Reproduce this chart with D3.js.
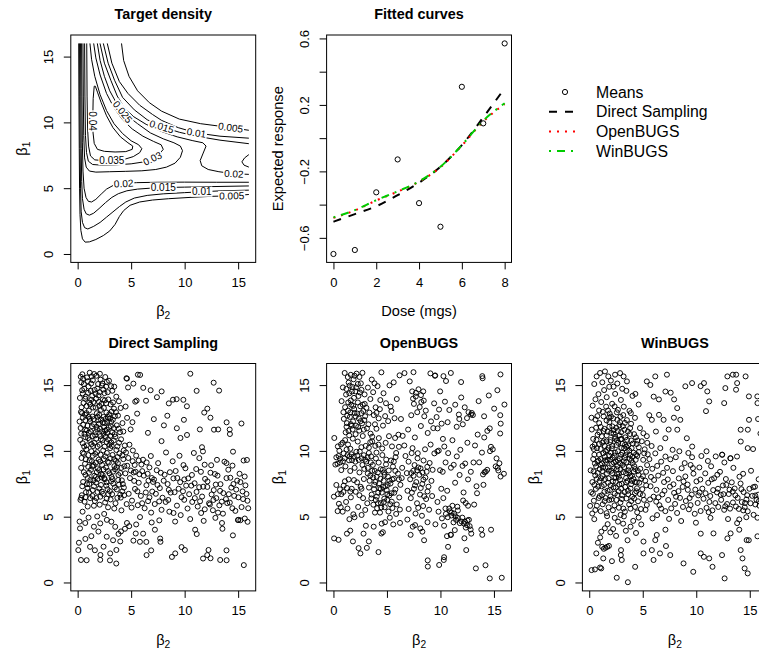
<!DOCTYPE html>
<html>
<head>
<meta charset="utf-8">
<script src="https://cdn.jsdelivr.net/npm/d3@7"></script>
<style>
body { margin: 0; background: #fff; }
svg { font-family: "Liberation Sans", Arial, Helvetica, sans-serif; }
</style>
</head>
<body>
<script>
// ---- fitted curves panel ----
var dose = [0, 1, 2, 3, 4, 5, 6, 7, 8];
var means = [-0.697, -0.673, -0.326, -0.128, -0.391, -0.533, 0.309, 0.089, 0.57];
var fitDirect = [-0.503, -0.457, -0.41, -0.343, -0.268, -0.172, -0.042, 0.125, 0.30];
var fitOpen = [-0.48, -0.435, -0.375, -0.322, -0.262, -0.175, -0.045, 0.10, 0.205];
var fitWin = [-0.477, -0.433, -0.373, -0.32, -0.26, -0.172, -0.042, 0.105, 0.21];
var legendNames = ['Means', 'Direct Sampling', 'OpenBUGS', 'WinBUGS'];

// ---- target density contours, traced as [beta2, beta1] polylines ----
var contourLines = [
  [0.005, [[0.1,16],[0.12,12],[0.15,8],[0.18,5],[0.22,3],[0.3,1.8],[0.45,1.15],[0.7,0.9],[1.1,0.92],[1.7,1.1],[2.4,1.4],[3.0,1.75],[3.5,2.25],[3.9,2.85],[4.3,3.3],[4.9,3.7],[5.8,3.95],[7.0,4.1],[8.5,4.2],[10.5,4.3],[12.5,4.38],[14.4,4.42],[16,4.52]]],
  [0.01, [[0.18,16],[0.2,12],[0.23,8],[0.27,5],[0.33,3.2],[0.45,2.4],[0.65,2.0],[0.95,1.9],[1.5,2.1],[2.1,2.4],[2.7,2.8],[3.3,3.2],[3.9,3.6],[4.5,3.95],[5.3,4.25],[6.5,4.45],[8,4.57],[10,4.66],[11.6,4.73],[13.5,4.8],[16,4.85]]],
  [0.015, [[0.27,16],[0.3,12],[0.33,8],[0.38,5.5],[0.45,4.2],[0.6,3.4],[0.8,3.05],[1.1,2.95],[1.5,3.1],[2.0,3.45],[2.6,3.9],[3.2,4.3],[3.8,4.58],[4.6,4.8],[5.6,4.93],[6.8,5.0],[8,5.05],[10,5.08],[12.5,5.12],[16,5.17]]],
  [0.02, [[0.37,16],[0.4,12],[0.44,8.5],[0.5,6.3],[0.6,5.0],[0.78,4.3],[1.0,4.0],[1.3,3.95],[1.7,4.15],[2.2,4.55],[2.7,4.93],[3.3,5.2],[4.3,5.35],[5.5,5.42],[7.5,5.45],[10,5.46],[13,5.45],[16,5.45]]],
  [0.025, [[0.5,16],[0.53,12],[0.57,9],[0.65,7.3],[0.8,6.6],[1.1,6.3],[1.7,6.22],[3,6.25],[4.5,6.28],[6,6.32],[7.3,6.42],[8.3,6.6],[9.1,6.9],[9.6,7.35],[9.8,7.85],[9.6,8.2],[9.0,8.45],[8.0,8.75],[6.8,9.2],[5.6,9.9],[4.8,10.4],[4.2,10.8],[3.6,11.5],[3.0,12.4],[2.5,13.5],[2.1,14.7],[1.84,16]]],
  [0.03, [[0.65,16],[0.68,12],[0.73,9],[0.83,7.7],[1.0,7.05],[1.4,6.8],[2.2,6.75],[3.5,6.77],[5,6.85],[6.2,7.0],[7.0,7.25],[7.6,7.55],[8.0,7.95],[7.8,8.3],[7.1,8.55],[6.1,8.95],[5.1,9.5],[4.2,10.2],[3.4,11.1],[2.7,12.2],[2.1,13.6],[1.7,14.9],[1.5,16]]],
  [0.035, [[0.85,16],[0.88,12],[0.93,9.5],[1.02,8.2],[1.2,7.45],[1.6,7.15],[2.4,7.1],[3.4,7.12],[4.4,7.2],[5.2,7.4],[5.8,7.7],[6.0,8.0],[5.7,8.3],[5.0,8.6],[4.2,9.15],[3.4,9.9],[2.7,10.9],[2.1,12.1],[1.6,13.5],[1.3,14.8],[1.15,16]]],
  [0.04, [[1.55,12.75],[1.45,11.8],[1.42,10.5],[1.44,9.2],[1.55,8.4],[1.85,7.95],[2.5,7.8],[3.5,7.75],[4.5,7.78],[5.1,7.95],[5.15,8.2],[4.7,8.45],[4.0,8.9],[3.3,9.6],[2.7,10.5],[2.2,11.5],[1.85,12.3],[1.65,12.75],[1.55,12.75]]],
  [0.02, [[2.09,16],[2.5,14.5],[3.1,13.2],[3.7,12.0],[4.3,11.2],[5.2,10.45],[6.4,9.85],[7.85,9.3],[9.3,8.9],[10.7,8.62],[11.7,8.45],[12.0,8.2],[11.7,7.6],[11.45,7.1],[11.6,6.7],[12.2,6.42],[13.2,6.25],[14.6,6.1],[16,6.05]]],
  [0.015, [[2.4,16],[2.85,14.5],[3.45,13.2],[4.2,11.9],[5.3,10.95],[6.5,10.2],[7.85,9.67],[9.5,9.25],[11.1,8.95],[13.3,8.65],[16,8.38]]],
  [0.01, [[2.77,16],[3.2,14.5],[3.9,13.1],[4.7,12.2],[5.8,11.3],[7.0,10.6],[7.85,10.15],[9.4,9.6],[11.1,9.2],[13.3,8.95],[16,8.8]]],
  [0.005, [[4.1,16],[4.3,14.7],[4.8,13.5],[5.6,12.4],[6.7,11.5],[7.85,10.85],[9.5,10.25],[11.5,9.9],[13.2,9.72],[14.3,9.6],[16,9.4]]],
  [0.025, [[16,7.55],[15.6,7.3],[15.35,7.0],[15.55,6.75],[16,6.6]]]
];
// label text, beta2, beta1, angle
var contourLabels = [
  ['0.005', 14.3, 9.6, 8], ['0.01', 11.1, 9.2, 9], ['0.015', 7.85, 9.67, 17],
  ['0.025', 4.2, 10.8, 52], ['0.04', 1.43, 10.1, 90], ['0.035', 3.2, 7.12, 0],
  ['0.03', 7.0, 7.25, -26], ['0.02', 4.3, 5.35, -3], ['0.015', 8.0, 5.05, 0],
  ['0.01', 11.6, 4.73, 0], ['0.005', 14.4, 4.42, -1], ['0.02', 14.6, 6.1, 3]
];

// ---- posterior samples [beta2, beta1] ----
var directPts = [
[0.34,15.21],[0.62,14.73],[0.87,15.58],[1.13,15.94],[1.42,15.37],[1.76,15.71],[2.08,15.86],[2.31,15.12],[2.66,14.88],[2.93,15.33],[0.21,14.02],[0.55,13.64],[0.97,14.41],[1.27,13.88],[1.58,14.63],[1.94,14.21],[2.22,13.57],[2.51,14.39],[2.87,13.91],[3.24,14.57],[3.61,14.12],[0.41,12.87],[0.73,12.33],[1.05,13.06],[1.38,12.61],[1.69,13.29],[2.01,12.74],[2.35,12.15],[2.69,12.92],[3.02,12.46],[3.39,13.21],[3.77,12.68],[0.28,11.74],[0.64,11.29],[0.92,11.91],[1.21,11.47],[1.53,12.02],[1.82,11.63],[2.14,11.12],[2.47,11.81],[2.78,11.36],[3.11,11.88],[3.46,11.27],[3.83,11.69],[4.19,12.11],[0.47,10.58],[0.81,10.12],[1.12,10.83],[1.44,10.37],[1.73,10.92],[2.05,10.46],[2.39,10.03],[2.71,10.67],[3.04,10.21],[3.37,10.79],[3.72,10.34],[4.06,10.88],[4.41,10.41],[0.36,9.46],[0.69,9.02],[1.01,9.68],[1.33,9.21],[1.64,9.77],[1.97,9.33],[2.28,8.94],[2.59,9.58],[2.92,9.11],[3.26,9.69],[3.58,9.24],[3.91,9.81],[4.27,9.37],[0.58,8.38],[0.94,7.93],[1.24,8.56],[1.56,8.11],[1.88,8.67],[2.19,8.23],[2.53,7.84],[2.84,8.47],[3.17,8.02],[3.49,8.61],[3.81,8.17],[4.13,7.76],[4.46,8.29],[0.43,7.31],[0.78,6.86],[1.09,7.48],[1.41,7.02],[1.72,7.59],[2.03,7.14],[2.37,6.73],[2.68,7.36],[3.01,6.94],[3.33,7.51],[3.66,7.07],[3.98,6.68],[4.32,7.21],[0.26,6.27],[0.65,6.14],[1.17,6.41],[1.61,6.19],[2.12,6.52],[2.57,6.08],[3.08,6.31],[3.54,6.02],[4.03,6.45],
[0.51,15.47],[1.36,14.18],[1.91,15.08],[2.45,13.26],[0.83,13.41],[1.64,11.18],[2.96,10.46],[1.28,9.97],[2.14,9.71],[3.43,8.84],[0.99,8.79],[1.79,8.39],[2.71,7.61],[3.87,7.44],[1.48,7.76],[2.33,10.82],[1.03,12.58],[3.18,12.99],[2.57,11.53],[0.72,11.04],[1.92,12.33],[3.62,10.07],[4.08,8.71],[2.81,9.17],[1.57,10.61],[0.58,9.79],[2.24,7.98],[3.25,7.86],[1.85,6.88],[0.92,7.18],[4.35,6.63],[3.73,9.53],[2.63,12.44],[1.18,13.52],[2.06,14.46],[0.31,12.96],[1.49,8.93],[2.41,8.59],[3.14,10.64],[4.52,9.88],[0.85,10.42],[1.71,9.11],[2.87,6.71],[3.96,11.42],[1.26,15.12],[2.58,15.61],[0.47,14.37],
[0.44,15.82],[0.76,14.12],[1.02,14.89],[1.31,15.66],[1.67,14.34],[1.99,13.72],[2.27,14.97],[2.54,13.84],[2.81,14.46],[3.09,13.53],[3.42,14.88],[3.86,13.77],[0.36,13.31],[0.69,12.74],[1.15,12.27],[1.47,13.71],[1.79,12.86],[2.18,13.12],[2.42,12.58],[2.76,12.21],[3.29,12.37],[3.58,12.94],[4.02,13.26],[0.52,11.98],[0.86,11.56],[1.34,11.87],[1.68,11.42],[1.99,12.06],[2.29,11.48],[2.63,11.09],[2.91,11.79],[3.24,11.41],[3.66,11.94],[4.27,11.47],[0.24,10.84],[0.61,10.33],[0.97,10.97],[1.29,10.51],[1.86,10.34],[2.17,10.89],[2.52,10.32],[2.84,10.88],[3.19,10.37],[3.53,11.07],[3.87,10.62],[4.31,10.04],[0.47,9.87],[0.76,9.36],[1.12,9.27],[1.41,9.63],[1.82,9.91],[2.11,9.19],[2.44,9.37],[2.73,9.84],[3.07,9.43],[3.41,9.36],[3.76,9.07],[4.18,9.66],[0.33,8.71],[0.73,8.18],[1.06,8.34],[1.37,8.81],[1.71,8.02],[2.01,8.54],[2.33,8.17],[2.66,8.73],[2.98,8.29],[3.31,8.42],[3.66,8.76],[3.98,8.32],[4.36,8.83],[0.51,7.64],[0.87,7.47],[1.19,7.79],[1.53,7.31],[1.86,7.86],[2.18,7.41],[2.49,7.93],[2.79,7.09],[3.12,7.68],[3.47,7.22],[3.79,7.79],[4.22,7.48],[0.39,6.63],[0.74,6.48],[1.06,6.83],[1.39,6.57],[1.74,6.42],[2.26,6.91],[2.71,6.37],[3.22,6.71],[3.71,6.43],[4.17,6.92],[0.94,5.77],[1.52,5.83],[2.06,5.91],[2.84,5.71],[3.42,5.62],[4.09,5.48],[4.58,5.96],[4.73,9.46],[4.84,10.47],[5.16,10.03],[5.47,9.64],[4.97,8.51],[5.28,7.72],[5.58,6.93],[5.04,5.69],[5.77,8.23],[6.11,9.33],[6.37,6.84],[6.62,7.74],[6.03,6.02],[7.31,6.74],[7.77,8.34],[8.47,6.27],[9.06,6.86],[9.58,7.62],[10.33,7.91],[10.95,6.41],[11.73,7.28],[12.36,5.93],[12.91,7.44],[13.47,6.14],[14.13,6.71],[14.82,7.06],[15.46,6.34],
[0.29,15.63],[0.58,15.07],[0.95,15.29],[1.22,14.56],[1.54,15.84],[1.83,14.73],[2.14,15.41],[2.39,14.66],[2.73,15.24],[3.12,14.92],[0.42,14.61],[0.71,13.96],[1.08,13.67],[1.44,13.29],[1.74,13.97],[2.03,13.41],[2.36,13.91],[2.67,13.62],[2.96,12.78],[3.31,13.68],[0.18,12.23],[0.49,12.53],[0.82,12.87],[1.13,12.44],[1.51,12.41],[1.86,12.59],[2.19,12.38],[2.54,12.11],[2.84,12.57],[3.14,12.21],[3.48,12.63],[0.33,11.31],[0.71,11.61],[1.04,11.38],[1.41,11.12],[1.76,11.83],[2.09,11.67],[2.41,11.29],[2.72,11.62],[3.04,11.14],[3.38,11.73],[5.33,8.93],[5.71,9.27],[6.04,8.46],[6.54,8.26],[6.93,7.94],[7.46,7.41],[8.04,7.73],[8.52,7.04],[9.31,7.94],[9.96,6.28],[10.62,7.36],[11.44,6.17],[12.12,7.26],[12.69,6.27],[13.31,6.96],[13.98,6.03],[14.56,7.48],[15.21,7.63],[15.78,6.73],[10.07,8.68],[11.52,8.41],[12.83,8.24],[14.27,7.96],[8.96,5.28],[11.88,5.56],[13.12,5.31],[14.46,5.64],[6.71,6.47],[7.62,6.16],
[4.62,12.51],[4.95,11.63],[4.48,13.37],[5.12,12.18],[4.71,14.82],[5.38,13.74],[4.56,15.52],[5.63,15.79],[5.21,15.11],[5.56,12.83],
[4.63,8.87],[4.89,7.93],[5.14,9.22],[5.42,8.41],[5.71,7.58],[5.96,8.96],[4.77,6.74],[5.08,6.22],[5.36,7.11],[5.62,5.87],[5.91,6.58],[6.18,8.12],[6.43,7.39],[6.71,8.74],[6.97,6.91],[6.26,5.64],[6.58,6.18],[6.87,5.31],[7.14,7.82],[7.39,8.53],[7.68,7.17],[7.93,6.44],[7.21,5.96],[7.52,9.07],[7.84,5.52],[8.13,8.19],[8.41,7.48],[8.69,6.83],[8.95,7.91],[8.23,6.12],[8.57,5.38],[8.88,9.21],[9.16,8.47],[9.44,7.12],[9.71,6.48],[9.97,7.83],[9.28,5.84],[9.63,5.12],[9.89,8.92],[10.14,7.36],[10.42,6.71],[10.68,8.17],[10.93,7.54],[10.27,5.62],[10.71,6.12],[11.08,8.62],[11.36,7.24],[11.63,6.53],[11.91,7.87],[11.22,5.77],[11.54,5.28],[11.87,8.95],[12.13,7.68],[12.41,8.34],[12.72,7.02],[12.96,6.41],[12.28,6.02],[12.64,5.49],[13.07,8.12],[13.35,7.47],[13.62,6.79],[13.91,7.93],[13.24,5.86],[13.58,5.23],[14.08,8.57],[14.36,7.21],[14.63,6.58],[14.91,7.74],[14.22,6.07],[14.74,5.44],[15.13,8.26],[15.41,6.92],[15.68,7.38],[15.87,6.21],[15.32,5.73],[15.62,4.86],[15.94,5.64],[15.51,9.27],[12.48,8.91],[9.52,9.63],[10.86,9.84],[6.84,9.61],[8.26,9.88],[11.37,9.45],[13.72,9.18],[14.47,8.88],[7.63,4.72],[9.11,4.63],[12.87,4.91],[14.98,4.74],[5.83,4.97],[6.92,4.56],[10.52,4.82],[11.78,4.68],[13.49,4.52],[8.62,8.38],[9.84,6.93],[11.11,6.88],[12.52,6.69],[13.86,6.34],[15.02,6.47],[7.05,7.64],[6.45,9.12],[5.24,8.36],
[10.53,15.86],[12.71,15.18],[13.22,14.58],[11.12,14.56],[8.91,13.89],[7.85,14.52],[7.41,14.08],[6.82,14.61],[6.13,14.79],[5.84,15.77],[4.61,15.49],[8.52,13.61],[9.25,13.93],[9.88,13.88],[10.21,13.39],[6.39,13.81],[5.51,13.82],[11.83,12.91],[12.12,13.21],[12.41,12.52],[12.74,11.61],[13.13,11.63],[13.92,12.17],[14.21,11.62],[14.23,11.28],[15.31,12.08],[11.42,11.63],[10.22,11.21],[9.61,10.98],[9.27,11.72],[11.62,10.28],[11.71,9.96],[14.52,9.94],[15.82,9.31],[13.91,9.07],[13.02,9.32],[15.61,8.05],[7.12,12.41],[8.06,11.94],[6.57,11.37],[7.84,10.74],[8.38,12.67],[9.93,12.36],
[0.06,2.46],[0.31,1.71],[0.84,1.69],[2.11,1.72],[3.02,1.68],[3.61,1.44],[2.13,2.09],[3.04,2.21],[3.62,2.47],[3.98,3.12],[5.21,3.18],[5.43,3.72],[5.82,3.09],[6.12,3.71],[6.42,3.08],[6.44,2.08],[6.87,2.44],[7.71,3.34],[7.74,3.09],[7.22,4.01],[8.81,1.94],[9.12,2.21],[9.71,2.69],[10.02,2.47],[10.98,4.01],[11.13,3.68],[11.72,1.82],[12.11,2.08],[12.23,2.47],[12.42,1.84],[13.32,1.71],[13.53,4.08],[13.91,2.44],[13.92,1.69],[14.51,3.58],[15.02,4.76],[15.21,4.73],[15.88,4.61],[15.53,1.32],[0.12,3.02],[0.22,4.11],[0.71,4.52],[1.52,4.24],[2.11,4.49],[2.72,3.48],[1.16,2.71],[1.61,2.45],[2.42,2.72],[3.31,3.21],[3.82,3.69],[4.61,4.52],[4.42,4.08],[3.51,4.23],[2.73,4.76],[1.83,5.02],[0.46,5.38],[1.02,4.93],[2.48,5.21],[3.15,4.62],[4.05,3.88],[4.82,4.28],[5.47,4.41],[0.33,6.42],[0.18,4.63],[1.28,3.52],[1.94,3.87],[0.72,3.31]
];

var openbugsPts = [
[1.05,15.92],[1.34,15.61],[1.62,15.78],[1.88,15.44],[2.16,15.87],[2.43,15.62],[2.71,15.93],[1.21,14.71],[1.48,14.38],[1.77,14.86],[2.05,14.52],[2.34,14.17],[2.62,14.64],[2.91,14.29],[3.22,14.81],[0.88,14.82],[1.09,13.32],[1.37,13.06],[1.66,13.51],[1.94,13.18],[2.22,12.84],[2.51,13.39],[2.79,13.03],[3.08,13.27],[3.36,12.91],[0.97,12.43],[1.26,12.11],[1.54,12.58],[1.83,12.24],[2.11,11.92],[2.38,12.46],[2.67,12.09],[2.96,12.63],[3.27,12.02],[1.14,11.41],[1.47,11.18],[1.79,11.62],[2.07,11.27],[2.41,11.54],[2.74,11.13],[3.13,11.71],[0.76,13.78],[1.58,12.92],[2.28,13.68],[2.89,12.34],[1.92,14.03],[2.56,15.13],[1.71,11.91],[3.45,13.94],[3.71,14.46],[3.94,13.31],[4.12,14.92],[4.38,13.86],[3.58,15.42],[4.23,12.47],[3.88,12.02],
[0.08,10.98],[0.27,9.51],[0.41,10.34],[0.62,9.12],[0.86,10.62],[1.04,9.43],[1.23,10.11],[1.46,9.28],[1.68,9.74],[1.91,9.56],[2.14,9.93],[2.37,9.31],[2.61,10.28],[2.84,9.67],[3.07,9.19],[3.31,9.84],[0.38,9.02],[0.73,8.54],[1.12,8.82],[1.57,8.47],[1.98,8.71],[2.43,8.36],[2.88,8.63],[3.21,8.28],[0.55,10.01],[1.36,10.48],[2.27,10.71],[3.02,10.38],[1.81,10.93],[0.96,9.81],[2.71,8.93],[3.52,9.58],[3.44,10.66],[0.18,8.96],
[0.04,6.52],[0.27,7.41],[0.51,5.98],[0.73,6.71],[0.96,7.36],[1.18,6.12],[1.42,7.83],[1.63,6.47],[1.86,5.18],[2.08,6.89],[2.31,5.74],[2.54,7.27],[2.77,6.41],[2.97,5.51],[0.86,5.38],[1.31,5.62],[1.71,7.12],[2.21,7.61],[2.63,5.13],[1.49,4.81],[0.61,7.08],[1.97,4.96],[0.39,5.42],[2.84,7.86],[1.07,7.69],
[3.21,8.71],[3.44,8.12],[3.68,8.93],[3.92,7.64],[4.15,8.36],[4.39,7.88],[4.62,8.57],[4.86,7.31],[5.09,8.04],[5.33,7.52],[5.56,8.81],[5.79,7.07],[6.03,8.27],[6.26,7.42],[3.32,7.21],[3.57,6.68],[3.81,7.43],[4.05,6.52],[4.28,7.17],[4.52,6.83],[4.75,6.37],[4.98,7.02],[5.22,6.61],[5.45,6.14],[5.68,6.82],[5.92,5.93],[6.15,6.46],[3.73,5.91],[4.08,5.64],[4.43,6.03],[4.79,5.72],[5.14,5.39],[5.51,5.66],[5.86,5.21],[6.21,5.54],[3.16,6.02],[4.91,8.97],[4.23,9.11],[3.97,9.42],[5.38,9.27],[5.81,9.53],[4.57,9.68],[6.42,8.71],[6.38,7.93],[3.49,9.12],[4.69,7.73],[5.02,6.28],[3.86,8.48],[5.64,7.89],[4.35,5.31],[3.54,6.39],[5.27,4.92],[4.51,4.47],[4.82,4.58],[5.59,4.41],[4.62,3.82],
[3.31,10.24],[3.62,10.72],[3.91,10.38],[4.24,10.97],[4.56,10.18],[4.88,10.61],[5.19,11.12],[5.47,10.34],[5.76,10.98],[6.07,11.23],[3.47,11.31],[4.02,11.68],[4.63,11.92],[5.11,12.26],[5.71,12.48],[3.77,12.72],[4.34,13.17],[4.91,13.62],[5.42,13.03],[5.92,13.94],[4.68,14.38],[5.24,14.98],[5.63,15.21],[6.18,15.74],[4.48,15.97],[6.31,12.42],[6.12,10.31],[5.86,9.84],[6.47,11.14],[3.84,15.13],
[6.73,9.61],[7.02,9.18],[7.31,9.83],[7.58,8.92],[7.86,9.44],[8.14,8.67],[8.42,9.27],[8.71,8.41],[8.99,9.08],[9.27,8.56],[6.86,8.31],[7.17,7.84],[7.46,8.49],[7.74,7.63],[8.03,8.18],[8.31,7.49],[8.59,7.97],[8.88,7.28],[9.16,7.72],[6.92,6.97],[7.23,6.41],[7.52,7.12],[7.81,6.02],[8.09,6.68],[8.38,5.81],[8.66,6.34],[8.94,5.53],[9.22,6.57],[7.03,5.58],[7.67,5.24],[8.27,5.07],[7.39,10.21],[8.56,10.12],[9.43,9.81],[6.62,10.41],[9.08,10.48],[7.92,5.67],
[6.64,15.91],[7.48,15.98],[7.13,15.28],[7.36,14.52],[7.69,14.13],[7.95,14.68],[8.18,14.24],[8.44,13.82],[7.52,13.57],[8.06,13.33],[8.63,13.06],[7.27,12.71],[7.83,12.94],[8.49,12.63],[9.06,15.89],[9.48,15.71],[9.12,12.24],[9.64,12.57],[9.33,11.73],[8.81,11.36],[7.61,11.02],[6.98,11.62],[9.87,13.14],[9.41,13.61],[8.17,11.89],
[9.53,4.42],[9.82,5.38],[10.14,4.87],[10.47,5.62],[10.68,4.96],[10.89,5.41],[11.12,5.83],[11.27,5.24],[11.46,4.76],[11.63,5.47],[11.81,4.51],[12.04,4.93],[12.19,4.48],[12.37,4.17],[12.52,4.71],[12.73,4.28],[12.88,3.71],[12.24,3.36],[12.41,2.46],[12.66,4.76],[11.58,5.76],[11.02,5.09],[10.34,4.31],[10.61,3.52],[10.97,3.61],[11.34,3.98],[9.72,6.12],[10.27,6.41],[12.12,6.23],[12.36,6.04],[12.58,5.83],[13.15,5.92],
[9.71,9.96],[9.96,8.53],[10.21,8.41],[10.48,9.12],[10.72,9.83],[10.98,8.72],[11.24,8.94],[11.53,9.58],[11.79,8.17],[12.06,8.86],[12.31,9.04],[12.58,7.83],[12.84,8.41],[13.09,9.12],[13.37,7.31],[13.62,9.13],[13.88,9.87],[14.12,8.38],[14.37,8.56],[14.63,9.98],[14.89,10.12],[15.16,8.82],[15.41,8.51],[15.62,8.05],[15.93,8.26],[15.51,9.06],[14.72,10.31],[10.08,7.12],[10.63,6.97],[11.37,7.58],[12.16,6.84],[13.42,6.78],[14.02,7.42],[13.23,10.41],[12.52,10.62],[11.12,10.81],[10.36,10.33],[9.84,10.02],[11.86,10.08],[15.24,9.43],
[9.51,15.73],[10.28,15.68],[10.97,15.92],[10.52,15.31],[11.93,15.23],[13.91,15.68],[13.94,15.52],[15.61,15.81],[15.32,14.61],[9.97,14.52],[10.42,13.74],[10.83,13.11],[11.38,13.51],[11.94,14.06],[12.27,13.31],[12.62,12.94],[12.86,12.76],[13.57,13.78],[13.03,12.72],[14.08,12.63],[14.61,11.71],[14.09,11.02],[15.59,12.71],[15.63,12.07],[15.58,11.32],[15.98,13.52],[15.02,13.21],[10.11,12.07],[10.67,12.18],[11.52,11.83],[12.09,12.02],[13.48,11.24],[12.48,12.49],[11.72,12.76],[9.73,11.71],[14.52,14.21],
[0.06,3.35],[0.48,3.24],[1.26,3.71],[1.57,3.94],[2.35,2.61],[2.52,2.21],[3.31,3.12],[3.12,2.63],[4.21,2.31],[4.48,3.72],[2.81,3.71],[3.76,4.24],[7.21,3.62],[7.41,4.24],[8.12,4.11],[8.31,3.86],[8.47,3.21],[8.79,4.58],[8.81,1.68],[8.82,1.21],[9.88,1.33],[10.31,1.71],[10.34,1.92],[10.71,2.71],[10.96,3.63],[13.31,1.07],[14.21,1.31],[14.61,0.31],[15.73,0.36],[13.82,4.02],[13.91,3.62],[14.73,4.01],[7.63,4.36],[6.91,4.78],[6.22,4.53],[1.82,3.12],[3.03,4.31],
[1.42,15.19],[1.97,15.71],[2.28,15.08],[1.18,14.28],[1.73,14.51],[2.47,14.44],[1.38,13.68],[2.08,12.62],[2.61,12.87],[1.63,12.03],[2.31,11.81],[1.22,11.83],[2.92,13.57],[1.85,13.42],[0.48,9.61],[0.89,9.21],[1.31,9.68],[1.74,9.29],[2.22,9.64],[2.63,9.44],[3.18,9.52],[0.71,10.49],[1.58,10.16],[2.46,9.95],[1.09,10.82],[3.62,8.49],[4.04,8.03],[4.41,8.61],[4.78,8.18],[5.17,8.51],[5.49,7.83],[3.79,7.08],[4.18,6.82],[4.63,7.26],[5.07,7.41],[5.42,6.78],[3.96,6.27],[4.71,6.12],[5.31,5.94],[4.47,5.71],[5.78,8.48],[6.12,7.83],[3.38,7.73],[4.27,7.53],[4.93,9.34],[5.64,9.18],[3.88,5.31],[7.49,8.11],[7.93,8.74],[8.32,8.36],[8.77,8.79],[7.62,7.38],[8.16,7.18],[8.79,6.92],[7.33,6.83],[8.48,6.55],[7.88,9.82],[7.71,14.41],[8.21,13.71],[7.44,13.97],[8.39,14.52],[10.82,5.62],[11.41,5.02],[11.97,4.63],[12.48,4.36],[11.22,4.57],[10.51,5.21],[12.82,4.02],[0.93,6.88],[1.58,6.91],[2.43,6.63],[0.68,5.72],[1.92,7.78],[13.98,8.21],[14.23,8.42],[15.34,8.71],[11.76,12.42],[12.93,12.88],[14.38,11.52],[10.23,10.91],[5.34,13.36],[4.83,12.64],[4.02,12.89],[3.62,11.08],[4.21,10.48],
[1.52,14.96],[2.12,14.83],[1.29,12.67],[1.97,12.88],[2.54,12.26],[1.62,13.83],[2.74,13.51],[0.93,12.94],[1.41,11.52],[2.84,11.61],[0.61,9.41],[1.51,9.58],[2.05,9.18],[2.96,9.33],[4.71,8.36],[5.23,7.73],[4.42,7.11],[3.71,7.98],[5.04,6.71],[4.16,6.03],[7.82,8.52],[8.41,7.81],[7.27,8.31],[11.62,4.91],[12.28,4.61],[11.04,5.31],[0.41,6.71],[1.26,7.18],[2.62,7.12],[4.02,9.87]
];

var winbugsPts = [
[0.24,11.62],[0.51,10.47],[0.78,11.23],[1.06,10.14],[1.33,11.51],[1.61,10.72],[1.88,11.84],[2.16,10.38],[2.43,11.07],[2.71,10.61],[2.98,11.42],[3.26,10.19],[3.53,10.84],[3.81,11.28],[4.08,10.56],[4.36,11.03],[4.63,10.27],[4.91,10.73],[5.18,10.12],[0.37,9.38],[0.64,8.82],[0.92,9.71],[1.19,9.04],[1.47,9.56],[1.74,8.73],[2.02,9.87],[2.29,9.12],[2.57,8.61],[2.84,9.43],[3.12,8.94],[3.39,9.68],[3.67,8.52],[3.94,9.27],[4.22,8.83],[4.49,9.61],[4.77,8.64],[5.04,9.32],[5.31,8.41],[0.29,7.63],[0.56,8.14],[0.83,7.28],[1.11,7.92],[1.38,7.41],[1.66,8.27],[1.93,7.02],[2.21,7.68],[2.48,7.21],[2.76,8.03],[3.03,7.49],[3.31,6.86],[3.58,7.72],[3.86,7.14],[4.13,7.87],[4.41,6.93],[4.68,7.58],[4.96,7.09],[5.23,7.74],[0.43,6.21],[0.71,5.83],[0.98,6.57],[1.26,5.94],[1.53,6.42],[1.81,5.71],[2.08,6.31],[2.36,5.86],[2.63,6.64],[2.91,6.07],[3.18,5.62],[3.46,6.38],[3.73,5.93],[4.01,6.52],[4.28,5.74],[4.56,6.17],[4.83,5.58],[5.11,6.28],[5.38,5.89],[1.62,12.31],[1.91,12.84],[2.24,12.47],[2.58,12.93],[2.87,12.18],[3.18,12.72],[1.34,12.62],[0.93,12.11],[3.52,12.34],[3.91,12.06],[4.27,12.51],[2.05,11.37],[2.52,11.76],[2.94,10.88],[1.79,10.23],[2.37,9.64],[3.01,10.23],[2.68,9.97],[1.53,9.98],[3.47,9.14],[2.15,8.31],[2.93,8.58],[3.74,10.02],[4.15,9.86],[1.23,8.47],[1.97,10.67],[2.41,10.93],[3.29,11.61],[0.68,10.84],[0.13,8.52],[0.17,6.86],[0.08,5.82],[0.58,12.38],[4.74,11.73],[5.06,11.34],[5.42,10.61],[5.47,9.74],[1.42,6.89],[2.74,6.94],[3.92,6.18],[4.61,8.19],[5.02,8.07],[1.07,11.82],[2.81,11.95],[3.61,11.47],[4.43,10.52],[1.71,9.31],[2.62,8.22],[3.44,8.31],[1.35,10.73],[2.19,9.48],[3.09,9.86],[3.83,8.07],[2.47,7.65],[1.76,7.58],[0.86,9.26],[1.63,11.17],[2.29,11.58],[3.35,10.47],[4.03,9.55],[0.42,10.14],[2.91,12.59],[2.03,12.61],
[0.37,10.91],[0.64,11.76],[0.91,10.52],[1.17,11.11],[1.45,10.37],[1.72,11.46],[1.99,10.82],[2.27,11.31],[2.54,10.44],[2.82,11.17],[3.09,10.54],[3.37,11.03],[3.64,10.41],[3.92,10.79],[4.19,11.27],[4.51,10.79],[0.48,9.71],[0.77,9.19],[1.04,9.38],[1.31,9.82],[1.58,9.16],[1.86,9.64],[2.13,9.01],[2.41,9.86],[2.68,9.28],[2.96,9.71],[3.23,9.21],[3.51,9.91],[3.78,9.41],[4.06,9.07],[4.34,9.32],[4.62,9.91],[0.41,8.44],[0.69,7.86],[0.97,8.62],[1.24,8.08],[1.52,8.71],[1.79,7.91],[2.07,8.49],[2.34,7.97],[2.62,8.84],[2.89,7.82],[3.17,8.38],[3.44,7.94],[3.72,8.79],[3.99,8.11],[4.27,7.63],[4.54,8.47],[4.86,7.87],[0.34,6.74],[0.62,7.11],[0.89,6.42],[1.16,7.31],[1.44,6.18],[1.71,6.97],[1.99,6.54],[2.26,7.23],[2.54,6.27],[2.81,7.44],[3.09,6.63],[3.36,7.26],[3.64,6.71],[3.91,7.47],[4.19,6.38],[4.46,7.16],[4.74,6.72],[5.01,6.64],[0.57,5.51],[1.07,5.42],[1.62,5.27],[2.21,5.49],[2.77,5.68],[3.33,5.38],[3.86,5.61],[4.48,5.33],[5.26,5.52],[5.14,9.81],[5.32,7.38],[5.41,8.92],[5.68,6.31],[5.77,8.02],[6.06,7.79],[6.47,6.47],[6.91,8.33],[7.34,7.83],[7.87,7.46],[8.34,6.94],[8.81,7.67],[9.38,6.42],[9.91,7.06],[10.38,7.82],[10.87,6.78],[11.45,7.84],[12.03,7.12],[12.54,6.71],[13.11,7.05],[13.66,6.62],[14.22,7.09],[14.76,6.63],[15.33,7.24],[15.87,6.19],[6.72,5.62],[8.02,5.97],[9.47,5.88],[11.16,5.34],[12.71,5.79],[14.39,5.48],[1.27,12.96],[2.37,13.38],[3.33,12.13],[1.88,12.18],[0.76,12.64],[2.63,12.36],
[0.31,10.32],[0.72,10.21],[1.22,10.62],[1.68,10.06],[2.11,10.18],[2.58,10.81],[3.02,10.91],[3.47,10.32],[3.96,10.21],[4.38,9.74],[0.53,9.04],[1.04,8.94],[1.52,9.29],[1.97,9.34],[2.46,9.18],[2.87,9.06],[3.31,9.47],[3.82,9.68],[4.29,8.62],[0.78,8.32],[1.28,8.74],[1.82,8.49],[2.31,8.66],[2.78,8.27],[3.26,8.76],[3.74,8.31],[4.17,8.42],[0.48,7.42],[0.96,7.71],[1.47,7.86],[1.99,7.39],[2.49,7.96],[2.98,7.13],[3.46,7.61],[3.99,7.72],[4.44,7.61],[1.19,6.63],[1.86,6.27],[2.39,6.76],[3.06,6.34],[3.62,6.97],[4.27,6.79],[2.16,11.86],[1.42,11.67],[2.67,11.52],[3.14,11.87],[3.82,11.73],[0.94,11.41],[1.85,12.52],[6.26,6.14],[7.03,6.97],[8.11,6.52],[9.21,7.04],[10.19,6.62],[11.31,6.57],[12.29,6.67],[13.41,6.91],[14.56,6.04],[15.51,6.61],[9.69,8.69],[11.97,8.19],
[0.69,15.66],[1.01,15.92],[1.47,16.04],[1.78,15.66],[2.41,15.79],[2.88,15.91],[3.21,15.66],[3.52,15.28],[0.32,13.44],[0.58,13.92],[0.86,14.31],[1.12,13.71],[1.39,14.62],[1.63,14.08],[1.87,14.87],[2.14,13.58],[2.42,14.33],[2.68,13.12],[2.96,13.87],[3.23,13.36],[3.47,14.56],[3.76,13.04],[4.04,14.18],[4.31,14.33],[4.62,13.52],[1.22,15.21],[2.02,15.34],[2.62,15.12],[0.47,15.08],[0.92,13.07],[1.58,13.36],[2.27,14.88],[3.08,14.72],[3.89,12.87],[0.21,12.52],[1.76,13.06],
[5.62,9.37],[5.89,8.64],[6.17,9.81],[6.44,8.12],[6.72,9.18],[6.99,7.63],[7.27,8.71],[7.54,7.28],[7.82,8.46],[8.09,9.52],[8.37,7.91],[8.64,8.68],[8.92,9.07],[9.19,7.44],[9.47,8.93],[9.74,8.27],[10.02,7.68],[10.29,8.74],[10.57,7.13],[10.84,8.29],[11.12,7.57],[11.39,8.83],[11.67,7.92],[11.94,6.84],[12.22,8.41],[12.49,7.37],[12.77,7.86],[13.04,6.72],[13.32,7.61],[13.59,7.14],[13.87,6.43],[14.14,7.52],[14.42,6.87],[14.69,6.31],[14.97,7.12],[15.24,6.58],[15.52,5.93],[15.79,6.67],[5.73,7.31],[6.01,6.52],[6.28,7.04],[6.56,5.87],[6.83,6.69],[7.11,5.42],[7.38,6.27],[7.66,5.63],[7.93,6.81],[8.21,5.28],[8.48,6.43],[8.76,5.74],[9.03,6.19],[9.31,5.56],[9.58,6.68],[9.86,5.22],[10.13,6.04],[10.41,5.43],[10.68,6.36],[10.96,5.67],[11.23,6.12],[11.51,5.48],[11.78,6.03],[12.06,5.74],[12.33,6.28],[12.61,5.52],[12.88,5.96],[13.16,5.61],[13.43,6.08],[13.71,5.77],[13.98,5.59],[14.26,6.11],[14.53,5.72],[14.81,5.41],[15.08,6.02],[15.36,5.14],[15.63,6.27],[15.91,5.83],[15.72,4.92],[14.68,4.96],[14.02,4.79],[12.97,4.82],[11.33,4.91],[9.97,4.54],[8.59,4.67],[7.46,4.83],[6.34,5.12],[5.91,4.87],[8.98,8.06],[9.61,9.52],[10.48,9.61],[11.09,9.23],[11.82,9.58],[12.63,9.12],[13.47,8.71],[14.38,8.26],[15.12,8.49],[15.83,7.84],[6.64,10.21],[7.79,10.08],[8.42,9.97],[10.96,9.97],[12.42,9.71],[13.18,9.44],[5.83,10.37],[6.35,8.86],[7.12,9.57],[9.26,9.84],[10.31,6.83],[11.58,7.02],[12.81,7.42],[14.04,8.04],[15.49,7.28],[8.73,7.26],[7.58,9.36],
[5.38,15.28],[5.71,15.01],[6.17,15.66],[7.26,15.79],[8.98,14.91],[9.61,15.15],[10.41,14.92],[10.72,15.15],[11.03,14.52],[11.21,13.76],[10.91,13.02],[12.61,13.63],[12.72,14.77],[12.91,15.66],[13.42,15.79],[13.73,15.79],[13.82,15.15],[13.72,14.65],[14.61,15.66],[14.92,14.14],[15.72,13.63],[15.71,14.14],[14.93,12.36],[14.82,11.61],[14.15,11.61],[14.16,10.71],[14.81,10.21],[13.81,9.57],[12.42,9.71],[13.21,9.44],[6.02,14.12],[6.51,13.91],[7.12,14.51],[7.61,14.42],[7.93,13.91],[8.22,13.25],[7.91,12.52],[7.42,11.62],[7.11,10.96],[6.52,12.74],[5.85,12.36],[6.95,12.36],[8.51,12.36],[8.23,11.61],[9.12,10.96],[9.62,10.33],[5.38,11.12],[5.61,12.71],[6.23,11.47],[15.78,12.42],[15.31,10.14],[16.0,11.32],
[0.22,0.94],[0.53,0.99],[1.01,1.14],[1.31,1.83],[1.12,1.07],[2.57,0.36],[3.61,0.02],[3.04,1.71],[2.95,2.08],[2.97,2.46],[4.29,1.19],[5.07,2.21],[5.07,3.11],[5.85,2.46],[6.01,1.71],[6.61,2.21],[7.17,2.77],[7.57,2.08],[6.17,3.22],[6.31,3.61],[7.12,4.01],[8.81,1.45],[9.72,0.81],[10.42,2.21],[10.71,1.95],[11.21,1.83],[11.52,1.19],[12.41,2.08],[12.65,0.31],[14.15,2.46],[14.32,1.83],[14.52,1.07],[14.81,0.69],[14.71,3.22],[14.91,3.21],[15.72,3.51],[14.02,4.01],[13.82,4.51],[13.21,3.73],[12.91,3.35],[11.61,3.73],[10.42,3.71],
[0.81,3.02],[1.02,3.42],[1.21,2.71],[1.36,2.56],[1.52,2.64],[1.68,2.71],[1.84,2.78],[1.13,3.86],[1.46,4.12],[1.72,4.43],[1.97,3.81],[2.23,4.06],[2.51,3.54],[2.69,4.62],[2.93,5.13],[3.17,4.47],[3.42,3.93],[3.58,3.21],[3.86,4.24],[4.11,4.68],[4.37,3.76],[4.62,4.93],[4.86,4.41],[0.47,4.81],[0.28,5.24],[0.66,2.21],[2.12,1.62],[1.67,5.04],[2.38,4.91],[3.24,5.02]
];

var betaTicks = [0, 5, 10, 15];
var doseTicks = [0, 2, 4, 6, 8];
var respTicks = [-0.6, -0.4, -0.2, 0, 0.2, 0.4, 0.6];
var respLabels = [-0.6, -0.2, 0.2, 0.6];

// ---- layout ----
var W = 759, H = 651;
var colX = [70.8, 326.6, 582.4], pw = 184.9;
var rowY = [35, 363.5], ph = 227.4;
var tickFont = 13, labFont = 14.6, titleFont = 14.4, legFont = 15.8;

var svg = d3.select('body').append('svg').attr('width', W).attr('height', H);

function pad(a, b) { var d = (b - a) * 0.04; return [a - d, b + d]; }

function panel(col, row, xdom, ydom) {
  var g = svg.append('g').attr('transform', 'translate(' + colX[col] + ',' + rowY[row] + ')');
  var x = d3.scaleLinear().domain(xdom).range([0, pw]);
  var y = d3.scaleLinear().domain(ydom).range([ph, 0]);
  return {g: g, x: x, y: y};
}

function axes(p, xt, yt, ylab, fmt) {
  var xa = d3.axisBottom(p.x).tickValues(xt).tickSize(7).tickPadding(8).tickFormat(fmt);
  var gx = p.g.append('g').attr('transform', 'translate(0,' + ph + ')').call(xa);
  var ya = d3.axisLeft(p.y).tickValues(yt).tickSize(7)
    .tickFormat(function(d) { return ylab.indexOf(d) >= 0 ? fmt(d) : ''; });
  var gy = p.g.append('g').call(ya);
  [gx, gy].forEach(function(a) {
    a.attr('font-family', null).attr('font-size', tickFont);
    a.select('.domain').remove();
    a.selectAll('line').attr('stroke', '#000');
  });
  gy.selectAll('text')
    .attr('x', null).attr('dy', null)
    .attr('text-anchor', 'middle')
    .attr('transform', 'translate(-17.5,0) rotate(-90)');
  p.g.append('rect').attr('width', pw).attr('height', ph)
    .attr('fill', 'none').attr('stroke', '#000').attr('stroke-width', 1);
}

function title(p, txt) {
  p.g.append('text').attr('x', pw / 2).attr('y', -16)
    .attr('text-anchor', 'middle').attr('font-weight', 'bold')
    .attr('font-size', titleFont).text(txt);
}

function xTitle(p, txt, sub) {
  var t = p.g.append('text').attr('x', pw / 2).attr('y', ph + 54)
    .attr('text-anchor', 'middle').attr('font-size', labFont).text(txt);
  if (sub) t.append('tspan').attr('font-size', labFont * 0.7).attr('dy', 3).text(sub);
}

function yTitle(p, txt, sub) {
  var t = p.g.append('text').attr('transform', 'translate(-43.5,' + (ph / 2) + ') rotate(-90)')
    .attr('text-anchor', 'middle').attr('font-size', labFont).text(txt);
  if (sub) t.append('tspan').attr('font-size', labFont * 0.7).attr('dy', 3).text(sub);
}

var fmt = function(d) { return String(d).replace('-', '\u2212'); };

// ---- Target density ----
var p1 = panel(0, 0, pad(0, 16), pad(0, 16));
var cline = d3.line().x(function(d) { return p1.x(d[0]); }).y(function(d) { return p1.y(d[1]); });
p1.g.append('g').selectAll('path').data(contourLines).enter().append('path')
  .attr('d', function(d) { return cline(d[1]); })
  .attr('fill', 'none').attr('stroke', '#000').attr('stroke-width', 1);
var lab = p1.g.append('g').selectAll('g').data(contourLabels).enter().append('g')
  .attr('transform', function(d) { return 'translate(' + p1.x(d[1]) + ',' + p1.y(d[2]) + ') rotate(' + d[3] + ')'; });
lab.each(function(d) {
  var g = d3.select(this);
  var t = g.append('text').attr('text-anchor', 'middle').attr('dy', '0.35em')
    .attr('font-size', 10).text(d[0]);
  var w = t.node().getComputedTextLength();
  g.insert('rect', 'text').attr('x', -w / 2 - 1).attr('y', -5).attr('width', w + 2).attr('height', 10).attr('fill', '#fff');
});
axes(p1, betaTicks, betaTicks, betaTicks, fmt);
title(p1, 'Target density');
xTitle(p1, '\u03b2', '2');
yTitle(p1, '\u03b2', '1');

// ---- Fitted curves ----
var p2 = panel(1, 0, pad(0, 8), pad(-0.697, 0.57));
function curve(vals) {
  return d3.line().curve(d3.curveMonotoneX)
    .x(function(d, i) { return p2.x(dose[i]); }).y(function(d) { return p2.y(d); })(vals);
}
var styles = [
  {v: fitDirect, c: '#000', dash: '8,8'},
  {v: fitOpen, c: '#ff0000', dash: '2,6'},
  {v: fitWin, c: '#00cc00', dash: '2,6,8,6'}
];
styles.forEach(function(s) {
  p2.g.append('path').attr('d', curve(s.v)).attr('fill', 'none')
    .attr('stroke', s.c).attr('stroke-width', 2).attr('stroke-dasharray', s.dash);
});
p2.g.append('g').selectAll('circle').data(means).enter().append('circle')
  .attr('cx', function(d, i) { return p2.x(dose[i]); }).attr('cy', function(d) { return p2.y(d); })
  .attr('r', 2.6).attr('fill', 'none').attr('stroke', '#000').attr('stroke-width', 1);
axes(p2, doseTicks, respTicks, respLabels, fmt);
title(p2, 'Fitted curves');
xTitle(p2, 'Dose (mgs)');
yTitle(p2, 'Expected response');

// ---- legend ----
var lg = svg.append('g').attr('font-size', legFont);
legendNames.forEach(function(n, i) {
  var yy = 92 + i * 19.7;
  lg.append('text').attr('x', 596).attr('y', yy).attr('dy', '0.35em').text(n);
  if (i === 0) {
    lg.append('circle').attr('cx', 565).attr('cy', yy).attr('r', 2.6)
      .attr('fill', 'none').attr('stroke', '#000').attr('stroke-width', 1);
  } else {
    var s = styles[i - 1];
    lg.append('line').attr('x1', 549).attr('x2', 578).attr('y1', yy).attr('y2', yy)
      .attr('stroke', s.c).attr('stroke-width', 2).attr('stroke-dasharray', s.dash);
  }
});

// ---- sample scatters ----
[[directPts, 'Direct Sampling'], [openbugsPts, 'OpenBUGS'], [winbugsPts, 'WinBUGS']].forEach(function(item, i) {
  var p = panel(i, 1, pad(0, 16), pad(0, 16));
  p.g.append('g').selectAll('circle').data(item[0]).enter().append('circle')
    .attr('cx', function(d) { return p.x(d[0]); }).attr('cy', function(d) { return p.y(d[1]); })
    .attr('r', 2.5).attr('fill', 'none').attr('stroke', '#000').attr('stroke-width', 0.95);
  axes(p, betaTicks, betaTicks, betaTicks, fmt);
  title(p, item[1]);
  xTitle(p, '\u03b2', '2');
  yTitle(p, '\u03b2', '1');
});
</script>
</body>
</html>
